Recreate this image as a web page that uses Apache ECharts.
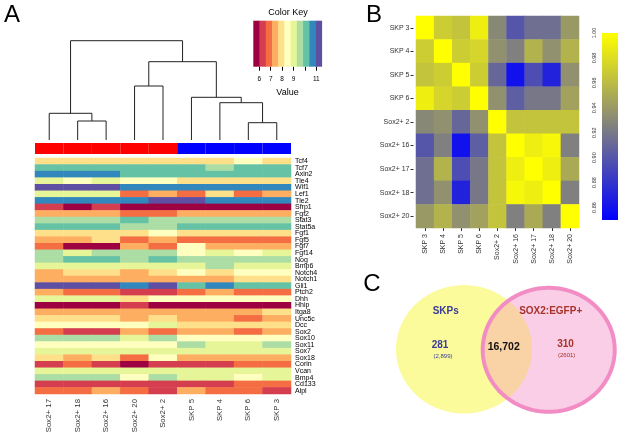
<!DOCTYPE html>
<html><head><meta charset="utf-8">
<script src="https://cdn.jsdelivr.net/npm/echarts@6/dist/echarts.min.js"></script>
<style>html,body{margin:0;padding:0;background:#fff}#c{width:624px;height:441px}</style>
</head><body><div id="c"></div>
<script>
// ---------- Panel A data ----------
const samplesA = ['Sox2+ 17','Sox2+ 18','Sox2+ 16','Sox2+ 20','Sox2+ 2','SKP 5','SKP 4','SKP 6','SKP 3'];
const groupsA = ['Sox2+','Sox2+','Sox2+','Sox2+','Sox2+','SKP','SKP','SKP','SKP'];
const genes = ['Tcf4','Tcf7','Axin2','Tle4','Wif1','Lef1','Tle2','Sfrp1','Fgf2','Stat3','Stat5a','Fgf1','Fgf5','Fgf7','Fgf14','Nog','Bmp6','Notch4','Notch1','Gli1','Ptch2','Dhh','Hhip','Itga8','Unc5c','Dcc','Sox2','Sox10','Sox11','Sox7','Sox18','Corin','Vcan','Bmp4','Cd133','Alpl'];
const expression = [
  [7.9,7.9,7.9,7.9,7.9,7.9,7.9,8.5,7.9],
  [10.1,10.1,10.1,10.1,10.1,10.1,9.6,10.1,10.1],
  [10.7,10.7,10.7,10.1,10.1,10.1,10.1,10.1,10.1],
  [9.0,8.5,9.0,8.5,8.5,7.9,7.9,7.9,7.9],
  [11.2,11.2,11.2,10.7,10.7,10.7,10.7,10.7,10.7],
  [9.0,9.0,9.0,6.8,7.4,6.8,7.9,6.8,7.4],
  [10.7,10.7,10.7,10.7,11.2,11.2,10.7,10.7,10.7],
  [6.3,5.8,6.3,5.8,5.8,5.8,5.8,5.8,5.8],
  [7.4,7.4,7.4,6.8,6.8,7.4,7.4,7.4,7.4],
  [9.6,9.6,9.6,10.1,9.6,9.6,9.6,9.6,9.6],
  [10.1,10.1,10.1,9.6,9.6,10.1,10.1,10.1,10.1],
  [7.9,7.9,7.9,7.9,8.5,7.9,7.9,7.9,7.9],
  [7.4,7.4,7.9,6.8,7.4,6.8,6.8,6.8,6.8],
  [6.8,5.8,5.8,7.4,6.8,8.5,7.4,7.4,7.4],
  [9.6,9.0,9.6,9.6,9.6,8.5,9.0,8.5,9.0],
  [9.6,10.1,10.1,9.6,10.1,9.6,9.6,9.6,9.6],
  [9.0,9.0,9.0,9.0,9.0,9.0,9.6,9.0,9.0],
  [7.4,7.9,7.9,7.4,7.9,8.5,7.9,8.5,8.5],
  [7.4,7.4,7.4,7.4,7.4,7.4,7.4,7.9,7.9],
  [11.2,11.2,11.2,10.7,11.2,10.1,10.7,10.1,10.1],
  [7.4,6.8,6.8,6.3,6.3,6.8,7.4,6.8,6.8],
  [9.0,9.0,9.0,7.9,8.5,8.5,8.5,8.5,8.5],
  [5.8,5.8,5.8,6.3,5.8,5.8,5.8,5.8,5.8],
  [7.4,7.4,7.4,7.4,7.4,7.4,7.4,7.4,7.9],
  [7.9,7.9,7.9,7.4,7.9,7.4,7.4,6.8,7.4],
  [8.5,8.5,8.5,8.5,9.0,7.9,7.9,7.9,7.9],
  [6.8,6.3,6.3,7.4,6.8,7.4,7.4,6.8,7.4],
  [9.6,9.6,9.6,9.0,9.6,8.5,8.5,8.5,8.5],
  [8.5,8.5,8.5,8.5,8.5,9.6,9.0,9.0,9.6],
  [9.0,9.0,9.0,9.0,9.0,9.0,9.0,9.0,9.0],
  [7.9,7.4,7.9,6.8,8.5,7.4,7.4,7.4,7.4],
  [6.3,6.8,6.3,5.8,6.3,6.3,6.3,6.8,6.8],
  [9.0,9.0,9.0,9.0,9.0,9.0,9.0,9.0,9.0],
  [9.6,9.6,9.6,8.5,9.6,9.0,9.0,8.5,9.0],
  [6.3,6.3,6.3,6.3,6.3,6.3,6.3,6.8,6.8],
  [6.8,6.8,7.4,6.8,6.3,7.4,6.8,6.8,6.3]
];
// dendrogram (hclust style: negative = leaf, positive = earlier merge)
const mergePairs = [[-2,-3],[-1,1],[-4,-5],[-8,-9],[-7,4],[-6,5],[3,6],[2,7]];
const mergeHeights = [19.0,26.7,54.0,17.3,37.3,42.7,78.3,99.3];
// color key
const keyMin = 5.47, keyMax = 11.47;
const keyTicks = [6,7,8,9,10,11];
const keyTickLabels = [6,7,8,9,11];
// ---------- Panel B data ----------
const samplesB = ['SKP 3','SKP 4','SKP 5','SKP 6','Sox2+ 2','Sox2+ 16','Sox2+ 17','Sox2+ 18','Sox2+ 20'];
const correlation = [
  [1.00,0.97,0.965,0.99,0.93,0.90,0.915,0.915,0.94],
  [0.97,1.00,0.97,0.975,0.935,0.925,0.955,0.935,0.955],
  [0.965,0.97,1.00,0.97,0.91,0.86,0.895,0.87,0.935],
  [0.99,0.975,0.97,1.00,0.935,0.905,0.92,0.92,0.945],
  [0.93,0.935,0.91,0.935,1.00,0.965,0.965,0.965,0.965],
  [0.90,0.925,0.86,0.905,0.965,1.00,0.99,0.995,0.925],
  [0.915,0.955,0.895,0.92,0.965,0.99,1.00,0.99,0.95],
  [0.915,0.935,0.87,0.92,0.965,0.995,0.99,1.00,0.925],
  [0.94,0.955,0.935,0.945,0.965,0.925,0.95,0.925,1.00]
];
const corMin = 0.85, corMax = 1.00;
const corTicks = [0.86,0.88,0.90,0.92,0.94,0.96,0.98,1.00];
// ---------- Panel C data ----------
const vennSets = ['SKPs','SOX2:EGFP+'];
const vennOnly = [281, 310];
const vennOnlyTotal = ['(2,899)','(2601)'];
const vennShared = 16702;

// ---------- styles ----------
const FONT = 'Liberation Sans, Arial, Helvetica, sans-serif';
const spectral = ['#9E0142','#D53E4F','#F46D43','#FDAE61','#FEE08B','#FFFFBF','#E6F598','#ABDDA4','#66C2A5','#3288BD','#5E4FA2'];
const groupColor = {'Sox2+':'#FF0000','SKP':'#0000FF'};
const keyBreaks = spectral.map((c,i)=>keyMin + i*(keyMax-keyMin)/spectral.length).concat([keyMax]);

const heatA = [];
expression.forEach((row,r)=>row.forEach((v,c)=>heatA.push([c,r,v])));
const heatB = [];
correlation.forEach((row,r)=>row.forEach((v,c)=>heatB.push([c,r,v])));

const mergeNodes = [];
function nodeInfo(k){ return k<0 ? {x:-k-1,h:0} : mergeNodes[k-1]; }
mergePairs.forEach((p,i)=>{
  const a=nodeInfo(p[0]), b=nodeInfo(p[1]);
  mergeNodes.push({x:(a.x+b.x)/2, h:mergeHeights[i], ax:a.x, ah:a.h, bx:b.x, bh:b.h});
});

// Venn geometry
const Y = {cx:464, cy:349.3, rx:68, ry:64.2};
const P = {cx:548.7, cy:349.8, rx:66, ry:62};
function ell(e,n){const pts=[];for(let i=0;i<n;i++){const t=2*Math.PI*i/n;pts.push([e.cx+e.rx*Math.cos(t),e.cy+e.ry*Math.sin(t)]);}return pts;}
function inside(e,p){const dx=(p[0]-e.cx)/e.rx, dy=(p[1]-e.cy)/e.ry;return dx*dx+dy*dy<=1;}
let lens = ell(Y,720).filter(p=>inside(P,p)).concat(ell(P,720).filter(p=>inside(Y,p)));
const lc = lens.reduce((a,p)=>[a[0]+p[0]/lens.length,a[1]+p[1]/lens.length],[0,0]);
lens.sort((a,b)=>Math.atan2(a[1]-lc[1],a[0]-lc[0])-Math.atan2(b[1]-lc[1],b[0]-lc[0]));

function txt(x,y,text,size,color,weight,align){
  return {type:'text',x:x,y:y,style:{text:text,font:(weight||'normal')+' '+size+'px '+FONT,fill:color||'#000',textAlign:align||'center',textVerticalAlign:'middle'},silent:true};
}

const chart = echarts.init(document.getElementById('c'),null,{renderer:'canvas'});
const option = {
  animation:false,
  backgroundColor:'#fff',
  textStyle:{fontFamily:FONT},
  grid:[
    {left:35,top:158,width:256,height:236},
    {left:35,top:143,width:256,height:11},
    {left:35,top:40.7,width:256,height:99.3},
    {left:253.3,top:20.7,width:68.4,height:46},
    {left:416,top:16,width:163,height:212},
    {left:602,top:33,width:16,height:187}
  ],
  xAxis:[
    {type:'category',gridIndex:0,data:samplesA,axisLine:{show:false},axisTick:{show:false},
     axisLabel:{interval:0,rotate:90,fontSize:7.8,margin:5,color:'#333',fontFamily:FONT}},
    {type:'category',gridIndex:1,data:samplesA,show:false},
    {type:'value',gridIndex:2,min:-0.5,max:8.5,show:false},
    {type:'value',gridIndex:3,min:keyMin,max:keyMax,axisLine:{show:false},splitLine:{show:false},
     axisTick:{show:true,length:4,lineStyle:{color:'#000'},customValues:keyTicks},
     axisLabel:{customValues:keyTickLabels,fontSize:6.5,margin:9,color:'#000',fontFamily:FONT},
     name:'Value',nameLocation:'middle',nameGap:21,nameTextStyle:{fontSize:9,color:'#000',fontFamily:FONT}},
    {type:'category',gridIndex:4,data:samplesB,axisLine:{show:false},
     axisTick:{show:true,alignWithLabel:true,length:3,lineStyle:{color:'#333'}},
     axisLabel:{interval:0,rotate:90,fontSize:7,margin:6,color:'#333',fontFamily:FONT}},
    {type:'value',gridIndex:5,min:0,max:1,show:false}
  ],
  yAxis:[
    {type:'category',gridIndex:0,data:genes,inverse:true,position:'right',axisLine:{show:false},axisTick:{show:false},
     axisLabel:{interval:0,fontSize:7,margin:4,color:'#000',fontFamily:FONT}},
    {type:'category',gridIndex:1,data:['group'],show:false},
    {type:'value',gridIndex:2,min:0,max:99.3,show:false},
    {type:'value',gridIndex:3,min:0,max:1,show:false},
    {type:'category',gridIndex:4,data:samplesB,inverse:true,position:'left',offset:2.5,axisLine:{show:false},
     axisTick:{show:true,alignWithLabel:true,length:3,lineStyle:{color:'#333'}},
     axisLabel:{interval:0,fontSize:7,margin:4,color:'#333',fontFamily:FONT}},
    {type:'value',gridIndex:5,min:corMin,max:corMax,position:'left',axisLine:{show:false},splitLine:{show:false},
     axisTick:{show:false},
     axisLabel:{customValues:corTicks,rotate:90,fontSize:5.5,margin:5,color:'#333',fontFamily:FONT,formatter:v=>v.toFixed(2)}}
  ],
  visualMap:[
    {type:'piecewise',show:false,seriesIndex:0,dimension:2,
     pieces:spectral.map((c,i)=>({gte:keyBreaks[i],lt:keyBreaks[i+1],color:c}))},
    {type:'continuous',show:false,seriesIndex:4,dimension:2,min:corMin,max:corMax,
     inRange:{color:['#0000FF','#808080','#FFFF00']}}
  ],
  series:[
    {type:'heatmap',xAxisIndex:0,yAxisIndex:0,data:heatA,itemStyle:{borderWidth:0},emphasis:{disabled:true}},
    {type:'custom',xAxisIndex:1,yAxisIndex:1,data:groupsA.map((g,i)=>[i,0]),
     renderItem:(params,api)=>{const c=api.coord([api.value(0),0]);const s=api.size([1,1]);
       return {type:'rect',shape:{x:c[0]-s[0]/2,y:c[1]-s[1]/2,width:s[0],height:s[1]},style:{fill:groupColor[groupsA[params.dataIndex]]}};}},
    {type:'custom',xAxisIndex:2,yAxisIndex:2,data:mergeNodes.map(n=>[n.ax,n.ah,n.bx,n.bh,n.h]),clip:false,
     renderItem:(params,api)=>{const ax=api.value(0),ah=api.value(1),bx=api.value(2),bh=api.value(3),h=api.value(4);
       return {type:'polyline',shape:{points:[api.coord([ax,ah]),api.coord([ax,h]),api.coord([bx,h]),api.coord([bx,bh])]},
         style:{stroke:'#222',lineWidth:1,fill:null}};}},
    {type:'custom',xAxisIndex:3,yAxisIndex:3,data:spectral.map((c,i)=>[keyBreaks[i],keyBreaks[i+1]]),
     renderItem:(params,api)=>{const p1=api.coord([api.value(0),1]),p2=api.coord([api.value(1),0]);
       return {type:'rect',shape:{x:p1[0],y:p1[1],width:p2[0]-p1[0]+0.4,height:p2[1]-p1[1]},style:{fill:spectral[params.dataIndex]}};}},
    {type:'heatmap',xAxisIndex:4,yAxisIndex:4,data:heatB,itemStyle:{borderWidth:0},emphasis:{disabled:true}},
    {type:'custom',xAxisIndex:5,yAxisIndex:5,data:[[0,corMin,1,corMax]],
     renderItem:(params,api)=>{const p1=api.coord([0,corMax]),p2=api.coord([1,corMin]);
       return {type:'rect',shape:{x:p1[0],y:p1[1],width:p2[0]-p1[0],height:p2[1]-p1[1]},
         style:{fill:new echarts.graphic.LinearGradient(0,0,0,1,[{offset:0,color:'#FFFF00'},{offset:0.5,color:'#808080'},{offset:1,color:'#0000FF'}])}};}}
  ],
  graphic:[
    txt(12,15,'A',24,'#000'),
    txt(374,15,'B',24,'#000'),
    txt(372,284,'C',24,'#000'),
    txt(288,13,'Color Key',9,'#000'),
    {type:'polygon',shape:{points:ell(Y,240)},style:{fill:'#FBFB9C',stroke:null},silent:true},
    {type:'polygon',shape:{points:ell(P,240)},style:{fill:'#F9CEE6',stroke:null},silent:true},
    {type:'polygon',shape:{points:lens},style:{fill:'#F9D2A6',stroke:null},silent:true},
    {type:'polygon',shape:{points:ell(P,240)},style:{fill:null,stroke:'#F28CC4',lineWidth:4},silent:true},
    txt(445.7,311.7,vennSets[0],10,'#3B3B98','bold'),
    txt(440,345.5,String(vennOnly[0]),10,'#3B3B98','bold'),
    txt(443,356,vennOnlyTotal[0],6,'#3B3B98'),
    txt(503.7,347,vennShared.toLocaleString('en-US'),10.5,'#111','bold'),
    txt(550.7,311.7,vennSets[1],10,'#A8322A','bold'),
    txt(565.5,344.5,String(vennOnly[1]),10,'#A8322A','bold'),
    txt(566.7,355.5,vennOnlyTotal[1],6,'#A8322A')
  ]
};
chart.setOption(option);
</script></body></html>
